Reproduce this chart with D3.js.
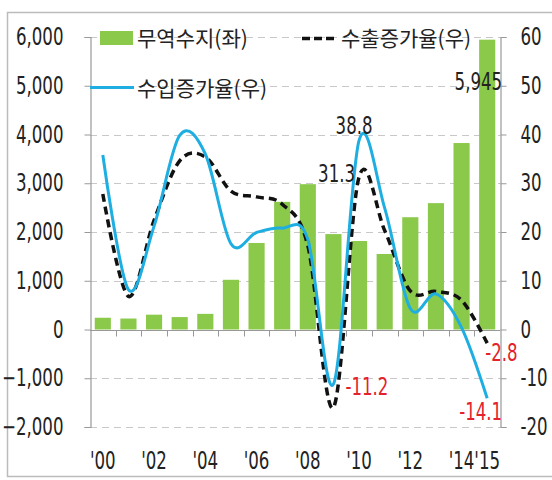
<!DOCTYPE html>
<html>
<head>
<meta charset="utf-8">
<script src="https://cdn.jsdelivr.net/npm/d3@7"></script>
<style>
  body { margin: 0; background: #fff; }
  svg { display: block; }
  .num { font-family: 'DejaVu Sans Condensed', 'DejaVu Sans', sans-serif; font-size: 24px; fill: #222; }
  .kr { font-family: 'Noto Sans CJK KR', sans-serif; font-size: 21px; fill: #222; }
</style>
</head>
<body>
<svg id="chart" width="552" height="480"></svg>
<script>
// years and series (trade balance: 100M USD, growth: %)
var years = ['2000','2001','2002','2003','2004','2005','2006','2007','2008','2009','2010','2011','2012','2013','2014','2015'];
var balance = [241, 225, 304, 255, 321, 1020, 1775, 2618, 2981, 1957, 1815, 1549, 2303, 2592, 3825, 5945];
var exportGrowth = [27.8, 6.8, 22.4, 34.6, 35.4, 28.4, 27.2, 25.7, 17.2, -16.0, 31.3, 20.3, 7.9, 7.8, 6.0, -2.8];
var importGrowth = [35.8, 8.2, 21.2, 39.8, 36.0, 17.6, 19.9, 20.8, 18.5, -11.2, 38.8, 24.9, 4.3, 7.3, 0.4, -14.1];
var leftTicks = [-2000, -1000, 0, 1000, 2000, 3000, 4000, 5000, 6000];
var rightTicks = [-20, -10, 0, 10, 20, 30, 40, 50, 60];
var xLabels = {'2000': "'00", '2002': "'02", '2004': "'04", '2006': "'06", '2008': "'08",
               '2010': "'10", '2012': "'12", '2014': "'14", '2015': "'15"};

var svg = d3.select('#chart');

// squeeze text horizontally (no narrow font installed)
function narrow(sel, k) {
    sel.each(function () {
        var t = d3.select(this);
        var tx = +t.attr('x') || 0;
        t.attr('x', tx / k).attr('transform', 'scale(' + k + ',1)');
    });
}

// outer frame
svg.append('path')
    .attr('d', 'M552,12.5H7.5V476.5H552')
    .attr('fill', 'none')
    .attr('stroke', '#bbb')
    .attr('stroke-width', 1.5);

var x = d3.scaleBand().domain(years).range([90, 500]).paddingInner(0.37).paddingOuter(0.185);
var yL = d3.scaleLinear().domain([-2000, 6000]).range([427, 37]);
var yR = d3.scaleLinear().domain([-20, 60]).range([427, 37]);
function cx(d) { return x(d) + x.bandwidth() / 2; }

// gridlines
svg.append('g')
    .selectAll('line')
    .data(leftTicks.filter(function (t) { return t !== 0; }))
    .join('line')
    .attr('x1', 90).attr('x2', 500)
    .attr('y1', function (d) { return Math.round(yL(d)) + 0.5; })
    .attr('y2', function (d) { return Math.round(yL(d)) + 0.5; })
    .attr('stroke', '#c8c8c8')
    .attr('stroke-dasharray', '7,5');

// bars
svg.append('g')
    .selectAll('rect')
    .data(years)
    .join('rect')
    .attr('x', function (d) { return x(d); })
    .attr('width', x.bandwidth())
    .attr('y', function (d, i) { return yL(balance[i]); })
    .attr('height', function (d, i) { return yL(0) - yL(balance[i]); })
    .attr('fill', '#8bc94a');

// left axis
var leftAxis = svg.append('g').attr('transform', 'translate(90.5,0)')
    .call(d3.axisLeft(yL).tickValues(leftTicks).tickSize(6).tickPadding(21).tickFormat(d3.format(',')));
// right axis
var rightAxis = svg.append('g').attr('transform', 'translate(500.5,0)')
    .call(d3.axisRight(yR).tickValues(rightTicks).tickSize(6).tickPadding(14).tickFormat(function (d) { return d; }));
[leftAxis, rightAxis].forEach(function (a) {
    a.select('.domain').attr('stroke', '#999').attr('stroke-width', 1.2);
    a.selectAll('.tick line').attr('stroke', '#999');
    a.selectAll('text').attr('class', 'num').attr('fill', null).call(narrow, 0.77);
    a.attr('font-family', null).attr('font-size', null);
});

// x axis at zero
var y0 = Math.round(yL(0)) + 0.5;
svg.append('line')
    .attr('x1', 90).attr('x2', 500).attr('y1', y0).attr('y2', y0)
    .attr('stroke', '#999').attr('stroke-width', 1.2);
svg.append('g')
    .selectAll('line')
    .data(years.slice(1))
    .join('line')
    .attr('x1', function (d) { return Math.round(x(d) - x.step() * x.paddingInner() / 2) + 0.5; })
    .attr('x2', function (d) { return Math.round(x(d) - x.step() * x.paddingInner() / 2) + 0.5; })
    .attr('y1', y0).attr('y2', y0 + 6)
    .attr('stroke', '#999');
svg.append('g')
    .selectAll('text')
    .data(years.filter(function (d) { return xLabels[d]; }))
    .join('text')
    .attr('class', 'num')
    .attr('x', function (d) { return cx(d); })
    .attr('y', 469)
    .attr('text-anchor', 'middle')
    .text(function (d) { return xLabels[d]; })
    .call(narrow, 0.77);

// lines (Excel-style smoothing)
var line = d3.line().curve(d3.curveCardinal.tension(0));
svg.append('path')
    .datum(years.map(function (d, i) { return [cx(d), yR(exportGrowth[i])]; }))
    .attr('d', line)
    .attr('fill', 'none')
    .attr('stroke', '#111')
    .attr('stroke-width', 3.5)
    .attr('stroke-dasharray', '8,5');
svg.append('path')
    .datum(years.map(function (d, i) { return [cx(d), yR(importGrowth[i])]; }))
    .attr('d', line)
    .attr('fill', 'none')
    .attr('stroke', '#1eaee2')
    .attr('stroke-width', 3);

// data labels
var labels = [
    {x: cx('2015'), y: yL(balance[15]), v: d3.format(',')(balance[15]), dx: 15, dy: 50, a: 'end', c: '#222'},
    {x: cx('2010'), y: yR(importGrowth[10]), v: importGrowth[10].toFixed(1), dx: -5, dy: -6, a: 'middle', c: '#222'},
    {x: cx('2010'), y: yR(exportGrowth[10]), v: exportGrowth[10].toFixed(1), dx: -4, dy: 5, a: 'end', c: '#222'},
    {x: cx('2009'), y: yR(importGrowth[9]), v: importGrowth[9].toFixed(1), dx: 12, dy: 11, a: 'start', c: '#e3222c'},
    {x: cx('2015'), y: yR(importGrowth[15]), v: importGrowth[15].toFixed(1), dx: 15, dy: 22, a: 'end', c: '#e3222c'},
    {x: cx('2015'), y: yR(exportGrowth[15]), v: exportGrowth[15].toFixed(1), dx: -2, dy: 18, a: 'start', c: '#e3222c'}
];
svg.append('g')
    .selectAll('text')
    .data(labels)
    .join('text')
    .attr('class', 'num')
    .attr('x', function (d) { return d.x + d.dx; })
    .attr('y', function (d) { return d.y + d.dy; })
    .attr('text-anchor', function (d) { return d.a; })
    .style('fill', function (d) { return d.c; })
    .text(function (d) { return d.v; })
    .call(narrow, 0.77);

// legend
var lg = svg.append('g');
lg.append('rect').attr('x', 100).attr('y', 31).attr('width', 33).attr('height', 14).attr('fill', '#8bc94a');
lg.append('text').attr('class', 'kr').attr('x', 137).attr('y', 46).text('무역수지(좌)');
lg.append('line').attr('x1', 302).attr('x2', 334).attr('y1', 38.5).attr('y2', 38.5)
    .attr('stroke', '#111').attr('stroke-width', 3.5).attr('stroke-dasharray', '8,4');
lg.append('text').attr('class', 'kr').attr('x', 341).attr('y', 46).text('수출증가율(우)');
lg.append('line').attr('x1', 90).attr('x2', 134).attr('y1', 87.5).attr('y2', 87.5)
    .attr('stroke', '#1eaee2').attr('stroke-width', 3);
lg.append('text').attr('class', 'kr').attr('x', 137).attr('y', 96).text('수입증가율(우)');
</script>
</body>
</html>
